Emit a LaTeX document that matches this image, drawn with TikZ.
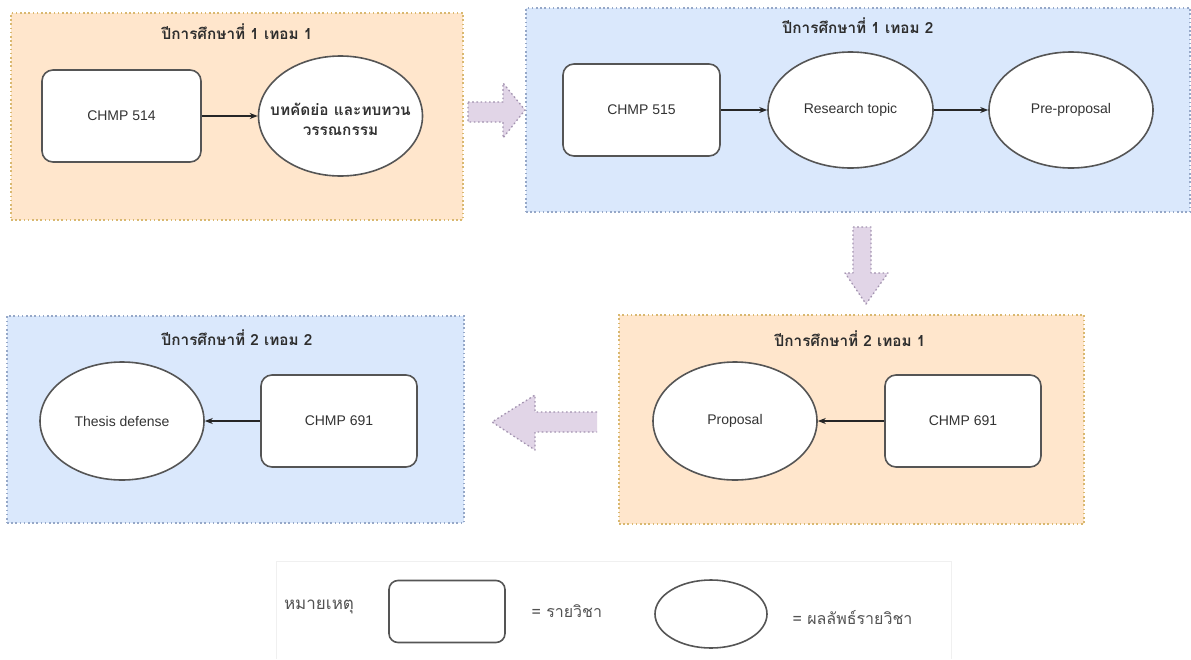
\documentclass[tikz,border=0pt]{standalone}
\usepackage{fontspec}
\setmainfont{Liberation Sans}
\newfontfamily\thaifont[Script=Thai]{Loma}
\usetikzlibrary{shapes.geometric,arrows.meta}

\definecolor{termfill}{HTML}{FFE6CC}
\definecolor{termline}{HTML}{D9B870}
\definecolor{semfill}{HTML}{DAE8FC}
\definecolor{semline}{HTML}{96A8C8}
\definecolor{stepfill}{HTML}{E1D5E7}
\definecolor{stepline}{HTML}{A393B0}
\definecolor{shapeline}{HTML}{555555}
\definecolor{ink}{HTML}{333333}

\tikzset{
  groupbox/.style={rectangle, draw, dash pattern=on 1.6pt off 2.6pt, line width=1.3pt,
    inner sep=0pt},
  orangegroup/.style={groupbox, draw=termline, fill=termfill},
  bluegroup/.style={groupbox, draw=semline, fill=semfill},
  grouptitle/.style={font=\thaifont\bfseries\fontsize{15.3}{18}\selectfont, text=ink!90!black},
  course/.style={rectangle, rounded corners=11pt, draw=shapeline, line width=1.6pt,
    fill=white, inner sep=0pt, text=ink, font=\fontsize{14}{17}\selectfont},
  outcome/.style={ellipse, draw=shapeline, line width=1.6pt, fill=white, inner sep=0pt,
    text=ink, font=\fontsize{14}{17}\selectfont, align=center},
  link/.style={-{Stealth[length=8pt,width=6pt]}, line width=1.3pt, draw=black!85},
  stepshape/.style={fill=stepfill, draw=stepline, line width=1.3pt,
    dash pattern=on 1.6pt off 2.6pt, line join=round},
  legendtext/.style={font=\thaifont\fontsize{16}{19}\selectfont, text=ink!85}
}

\begin{document}
\begin{tikzpicture}[x=1pt,y=-1pt]
  \useasboundingbox (0,0) rectangle (1191,659);
  \fill[white] (0,0) rectangle (1191,659);

  % --- year 1, term 1 ---
  \node[orangegroup, minimum width=452pt, minimum height=207pt] (g1) at (237,116.5) {};
  \node[grouptitle] (t1) at (237,32) {ปีการศึกษาที่ 1 เทอม 1};
  \node[course, minimum width=159pt, minimum height=92pt] (c514) at (121.5,116) {CHMP 514};
  % the two-line text is a centred label so that it does not widen the ellipse
  \node[outcome, minimum width=164pt, minimum height=120pt,
        label={[align=center, text=ink, yshift=-3pt,
                font=\thaifont\bfseries\fontsize{15.4}{20}\selectfont]center:บทคัดย่อ และทบทวน\\วรรณกรรม}]
        (lit) at (340.5,116) {};
  \draw[link] (c514) -- (lit);

  % --- year 1, term 2 ---
  \node[bluegroup, minimum width=664pt, minimum height=204pt] (g2) at (858,110) {};
  \node[grouptitle] (t2) at (858,26) {ปีการศึกษาที่ 1 เทอม 2};
  \node[course, minimum width=157pt, minimum height=92pt] (c515) at (641.5,110) {CHMP 515};
  \node[outcome, minimum width=165pt, minimum height=116pt] (topic) at (850.5,110) {Research topic};
  \node[outcome, minimum width=164pt, minimum height=116pt] (pre) at (1071,110) {Pre-proposal};
  \draw[link] (c515) -- (topic);
  \draw[link] (topic) -- (pre);

  % --- year 2, term 1 ---
  \node[orangegroup, minimum width=465pt, minimum height=209pt] (g3) at (851.5,419.5) {};
  \node[grouptitle] (t3) at (850,339) {ปีการศึกษาที่ 2 เทอม 1};
  \node[outcome, minimum width=164pt, minimum height=118pt] (prop) at (735,421) {Proposal};
  \node[course, minimum width=156pt, minimum height=92pt] (c691a) at (963,421) {CHMP 691};
  \draw[link] (c691a) -- (prop);

  % --- year 2, term 2 ---
  \node[bluegroup, minimum width=457pt, minimum height=207pt] (g4) at (235.5,419.5) {};
  \node[grouptitle] (t4) at (237,338) {ปีการศึกษาที่ 2 เทอม 2};
  \node[outcome, minimum width=164pt, minimum height=118pt] (defense) at (122,421) {Thesis defense};
  \node[course, minimum width=156pt, minimum height=92pt] (c691b) at (339,421) {CHMP 691};
  \draw[link] (c691b) -- (defense);

  % --- block arrows between terms ---
  \draw[stepshape] (468,102) -- (503,102) -- (503,83) -- (525,110) -- (503,138)
    -- (503,122) -- (468,122) -- cycle;
  \draw[stepshape] (853,227) -- (871,227) -- (871,273) -- (888,273) -- (866,304)
    -- (845,273) -- (853,273) -- cycle;
  \draw[stepshape] (597,412) -- (535,412) -- (535,395) -- (492,422) -- (535,450)
    -- (535,432) -- (597,432);

  % --- legend ---
  \draw[draw=black!6, line width=1pt] (276,561) -- (951,561) -- (951,659)
    (276,659) -- (276,561);
  \node[legendtext, font=\thaifont\fontsize{17}{20}\selectfont] (note) at (319,607) {หมายเหตุ};
  \node[course, minimum width=116pt, minimum height=62pt, rounded corners=9pt] (keyc) at (447,611.5) {};
  \node[legendtext, anchor=west] (keyct) at (528,611) {= รายวิชา};
  \node[outcome, minimum width=112pt, minimum height=68pt] (keyo) at (711,614) {};
  \node[legendtext, anchor=west] (keyot) at (789,618) {= ผลลัพธ์รายวิชา};
\end{tikzpicture}
\end{document}
